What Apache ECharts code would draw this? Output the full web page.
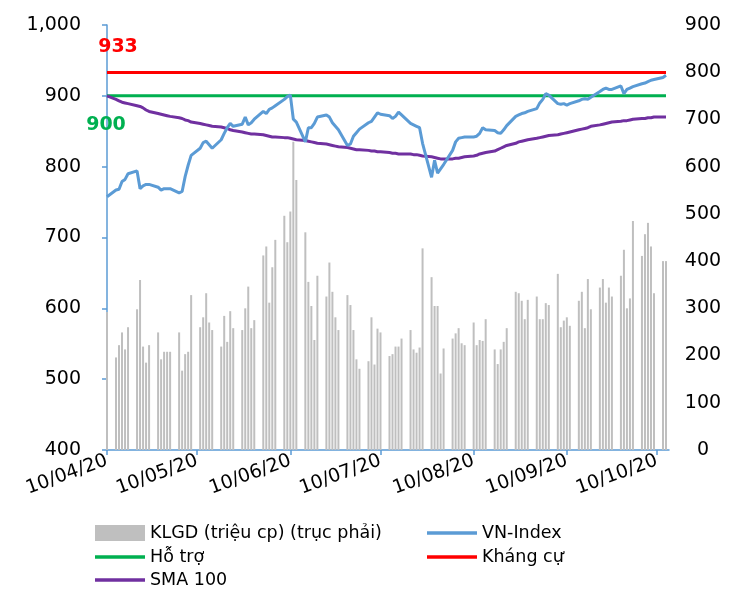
<!DOCTYPE html>
<html>
<head>
<meta charset="utf-8">
<title>VN-Index</title>
<script src="https://cdn.jsdelivr.net/npm/echarts@6/dist/echarts.min.js"></script>
<style>
  html, body { margin: 0; padding: 0; background: #fff; }
  #chart { width: 751px; height: 589px; }
</style>
</head>
<body>
<div id="chart"></div>
<script>
// trading days (MM-DD, 2020), holidays kept as in the source sheet
const tradingDays = [
  '04-10',
  '04-13', '04-14', '04-15', '04-16', '04-17',
  '04-20', '04-21', '04-22', '04-23', '04-24',
  '04-27', '04-28', '04-29', '04-30', '05-01',
  '05-04', '05-05', '05-06', '05-07', '05-08',
  '05-11', '05-12', '05-13', '05-14', '05-15',
  '05-18', '05-19', '05-20', '05-21', '05-22',
  '05-25', '05-26', '05-27', '05-28', '05-29',
  '06-01', '06-02', '06-03', '06-04', '06-05',
  '06-08', '06-09', '06-10', '06-11', '06-12',
  '06-15', '06-16', '06-17', '06-18', '06-19',
  '06-22', '06-23', '06-24', '06-25', '06-26',
  '06-29', '06-30', '07-01', '07-02', '07-03',
  '07-06', '07-07', '07-08', '07-09', '07-10',
  '07-13', '07-14', '07-15', '07-16', '07-17',
  '07-20', '07-21', '07-22', '07-23', '07-24',
  '07-27', '07-28', '07-29', '07-30', '07-31',
  '08-03', '08-04', '08-05', '08-06', '08-07',
  '08-10', '08-11', '08-12', '08-13', '08-14',
  '08-17', '08-18', '08-19', '08-20', '08-21',
  '08-24', '08-25', '08-26', '08-27', '08-28',
  '08-31', '09-01', '09-02', '09-03', '09-04',
  '09-07', '09-08', '09-09', '09-10', '09-11',
  '09-14', '09-15', '09-16', '09-17', '09-18',
  '09-21', '09-22', '09-23', '09-24', '09-25',
  '09-28', '09-29', '09-30', '10-01', '10-02',
  '10-05', '10-06', '10-07', '10-08', '10-09',
  '10-12', '10-13',
]

// KLGD (million shares), right axis
const volume = [
  292,
  196, 222, 249, 213, 260,
  298, 360, 219, 185, 222,
  249, 192, 208, 208, 208,
  249, 168, 203, 208, 328,
  260, 281, 332, 270, 254,
  219, 284, 229, 294, 258,
  254, 300, 346, 258, 275,
  412, 431, 312, 387, 445,
  496, 440, 505, 653, 572,
  461, 356, 305, 233, 369,
  325, 397, 335, 281, 254,
  328, 307, 254, 192, 172,
  188, 281, 181, 257, 249,
  199, 203, 219, 219, 236,
  254, 213, 206, 217, 427,
  366, 305, 305, 162, 215,
  236, 247, 258, 226, 222,
  270, 222, 233, 231, 277,
  213, 182, 213, 229, 258,
  335, 332, 316, 277, 318,
  325, 277, 277, 311, 307,
  373, 260, 274, 281, 263,
  316, 335, 258, 362, 298,
  344, 362, 312, 344, 325,
  369, 424, 300, 321, 485,
  411, 457, 481, 431, 332,
  400, 400,
]

const vnIndex = [
  757.6,
  767, 768, 779, 782, 790,
  794, 769, 773, 775, 775,
  771, 767, 769, 769, 769,
  763, 765, 786, 802, 816,
  826, 834, 836, 831, 826,
  838, 847, 855, 861, 857,
  860, 870, 859, 862, 867,
  878, 875, 881, 883, 886,
  895, 899, 901, 867, 863,
  835, 855, 855, 861, 870,
  873, 870, 862, 857, 852,
  830, 832, 843, 848, 853,
  862, 864, 870, 876, 874,
  872, 868, 871, 877, 873,
  861, 859, 857, 855, 833,
  785, 809, 791, 797, 803,
  823, 835, 840, 841, 842,
  842, 843, 847, 855, 852,
  851, 848, 847, 852, 858,
  871, 873, 875, 876, 878,
  882, 890, 895, 903, 901,
  889, 888, 889, 887, 889,
  893, 895, 896, 895, 898,
  906, 909, 911, 909, 909,
  914, 903, 909, 911, 913,
  917, 918, 920, 922, 923,
  926, 929,
]

const sma100 = [
  900,
  895, 893, 891, 890, 889,
  886, 885, 883, 880, 878,
  875, 874, 873, 872, 871,
  869, 868, 866, 865, 863,
  861, 860, 859, 858, 857,
  856, 855, 854, 852, 851,
  849, 848, 847, 846, 846,
  845, 844, 843, 842, 842,
  841, 841, 840, 839, 838,
  837, 836, 835, 834, 833,
  832, 831, 830, 829, 828,
  827, 826, 825, 824, 824,
  823, 822, 822, 821, 821,
  820, 819, 819, 818, 818,
  818, 817, 817, 816, 815,
  814, 813, 812, 811, 811,
  811, 812, 812, 813, 814,
  815, 816, 818, 819, 820,
  822, 824, 826, 828, 830,
  833, 835, 836, 837, 838,
  840, 841, 842, 843, 844,
  845, 846, 847, 848, 849,
  852, 853, 854, 855, 857,
  859, 860, 861, 862, 863,
  864, 865, 865, 866, 867,
  868, 868, 869, 869, 870,
  870, 870,
]

const supportLevel = 900
const resistanceLevel = 933
const monthTicks = ['04-10', '05-10', '06-10', '07-10', '08-10', '09-10', '10-10']
const axisStart = '04-10'
const axisEnd = '10-14'

// x is counted in calendar days from axisStart, like a date axis
const DAY = 24 * 3600 * 1000
const toDate = (md) => {
  const [m, d] = md.split('-').map(Number)
  return new Date(Date.UTC(2020, m - 1, d))
}
const dayOf = (md) => Math.round((toDate(md) - toDate(axisStart)) / DAY)
const pad = (n) => (n < 10 ? '0' : '') + n
const dayLabel = (v) => {
  const d = new Date(toDate(axisStart).getTime() + v * DAY)
  return pad(d.getUTCDate()) + '/' + pad(d.getUTCMonth() + 1) + '/' + String(d.getUTCFullYear()).slice(2)
}

const font = 'DejaVu Sans'
const axisColor = '#5B9BD5'
const legendText = { fontFamily: font, fontSize: 17.5, color: '#000', lineHeight: 18 }

const levelData = (level, label) => tradingDays.map((d, i) => {
  if (i === 0) {
    return { value: [dayOf(d), level], label }
  }
  return [dayOf(d), level]
})

// one legend per entry so the two columns line up like the sheet
const legendItem = (name, left, top, itemHeight) => ({
  left,
  top,
  padding: 0,
  selectedMode: false,
  itemWidth: 50,
  itemHeight,
  icon: 'rect',
  data: [name],
  textStyle: legendText,
})

const chart = echarts.init(document.getElementById('chart'), null, { renderer: 'canvas' })

chart.setOption({
  animation: false,
  backgroundColor: '#fff',
  textStyle: { fontFamily: font },
  grid: {
    left: 107,
    right: 82,
    top: 25,
    bottom: 139,
  },
  legend: [
    legendItem('KLGD (triệu cp) (trục phải)', 95, 524, 16),
    legendItem('VN-Index', 427, 524, 3.5),
    legendItem('Hỗ trợ', 95, 548, 3.5),
    legendItem('Kháng cự', 427, 548, 3.5),
    legendItem('SMA 100', 95, 571, 3.5),
  ],
  xAxis: {
    type: 'value',
    min: 0,
    max: dayOf(axisEnd),
    axisLine: { show: true, onZero: false, lineStyle: { color: axisColor, width: 1.5 } },
    axisTick: {
      show: true,
      length: 5,
      customValues: monthTicks.map(dayOf),
      lineStyle: { color: axisColor, width: 1.5 },
    },
    axisLabel: {
      customValues: monthTicks.map(dayOf),
      rotate: 20,
      margin: 10,
      fontFamily: font,
      fontSize: 19,
      color: '#000',
      formatter: dayLabel,
    },
    splitLine: { show: false },
  },
  yAxis: [{
    type: 'value',
    min: 400,
    max: 1000,
    interval: 100,
    axisLine: { show: true, lineStyle: { color: axisColor, width: 1.5 } },
    axisTick: { show: true, length: 5, lineStyle: { color: axisColor, width: 1.5 } },
    axisLabel: { margin: 26, fontFamily: font, fontSize: 19, color: '#000' },
    splitLine: { show: false },
  }, {
    type: 'value',
    min: 0,
    max: 900,
    interval: 100,
    axisLine: { show: false },
    axisTick: { show: false },
    axisLabel: { margin: 34, align: 'center', fontFamily: font, fontSize: 19, color: '#000' },
    splitLine: { show: false },
  }],
  series: [{
    name: 'KLGD (triệu cp) (trục phải)',
    type: 'bar',
    yAxisIndex: 1,
    barWidth: 2,
    itemStyle: { color: '#BFBFBF' },
    data: tradingDays.map((d, i) => [dayOf(d), volume[i]]),
  }, {
    name: 'Hỗ trợ',
    type: 'line',
    yAxisIndex: 0,
    symbol: 'circle',
    symbolSize: 0,
    showSymbol: true,
    showAllSymbol: true,
    itemStyle: { color: '#00B050' },
    lineStyle: { color: '#00B050', width: 3 },
    data: levelData(supportLevel, {
      show: true,
      position: 'bottom',
      distance: 0,
      offset: [-1, 20],
      formatter: (p) => p.value[1],
      fontFamily: font,
      fontSize: 19,
      fontWeight: 'bold',
      color: '#00B050',
    }),
  }, {
    name: 'Kháng cự',
    type: 'line',
    yAxisIndex: 0,
    symbol: 'circle',
    symbolSize: 0,
    showSymbol: true,
    showAllSymbol: true,
    itemStyle: { color: '#FF0000' },
    lineStyle: { color: '#FF0000', width: 3 },
    data: levelData(resistanceLevel, {
      show: true,
      position: 'top',
      distance: 0,
      offset: [11, -16],
      formatter: (p) => p.value[1],
      fontFamily: font,
      fontSize: 19,
      fontWeight: 'bold',
      color: '#FF0000',
    }),
  }, {
    name: 'SMA 100',
    type: 'line',
    yAxisIndex: 0,
    showSymbol: false,
    symbol: 'none',
    itemStyle: { color: '#7030A0' },
    lineStyle: { color: '#7030A0', width: 3 },
    data: tradingDays.map((d, i) => [dayOf(d), sma100[i]]),
  }, {
    name: 'VN-Index',
    type: 'line',
    yAxisIndex: 0,
    showSymbol: false,
    symbol: 'none',
    itemStyle: { color: '#5B9BD5' },
    lineStyle: { color: '#5B9BD5', width: 3 },
    data: tradingDays.map((d, i) => [dayOf(d), vnIndex[i]]),
  }],
})

window.addEventListener('resize', () => {
  chart.resize()
})
</script>
</body>
</html>
